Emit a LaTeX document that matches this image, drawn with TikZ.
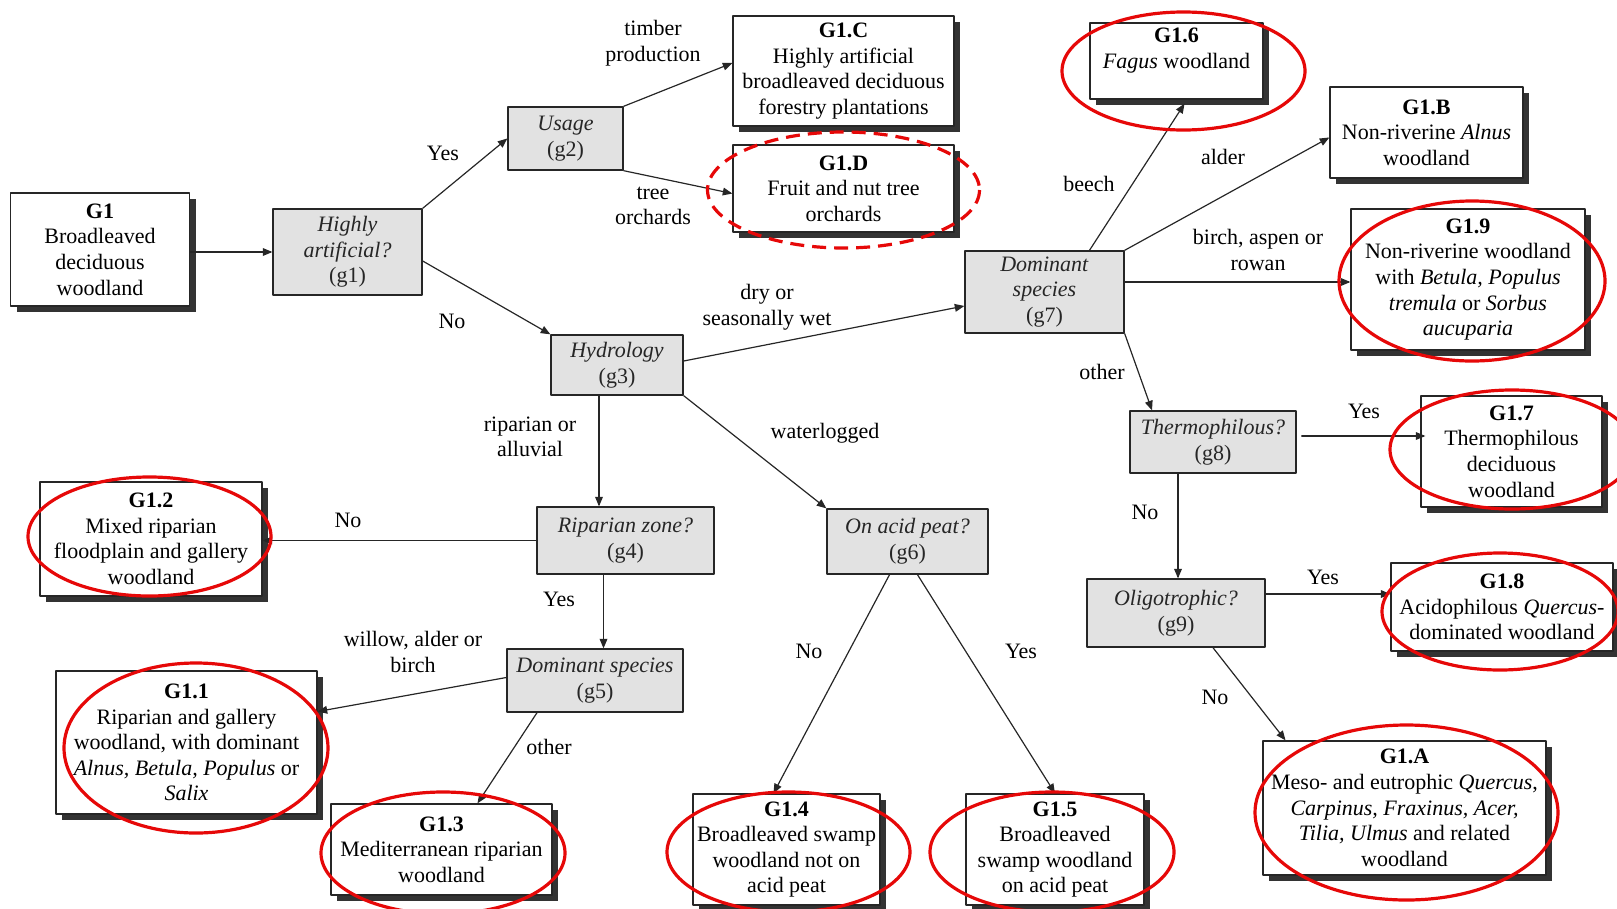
\documentclass[tikz,border=0pt]{standalone}
\usepackage{fontspec}
\setmainfont{Liberation Serif}
\usetikzlibrary{arrows,shadows}
\definecolor{ringred}{RGB}{230,8,8}
\definecolor{qgray}{RGB}{226,226,226}

\begin{document}
\begin{tikzpicture}[line cap=round,line join=round,>=triangle 45,x=1pt,y=-1pt,
  font=\fontsize{22}{25.6}\selectfont,
  leaf/.style={draw=black!85,line width=1.4pt,fill=white,align=center,inner sep=1pt,
    drop shadow={shadow xshift=6pt,shadow yshift=-6pt,fill=black!80,opacity=1}},
  quest/.style={draw=black!85,line width=1.4pt,fill=qgray,align=center,inner sep=1pt,text=black!85},
  lbl/.style={align=center,inner sep=0pt},
  link/.style={->,line width=1.2pt,black!85},
  ring/.style={draw=ringred,line width=3.2pt}]
\useasboundingbox (0,0) rectangle (1617,908);
\clip (0,0) rectangle (1617,908);

\node[leaf,minimum width=179,minimum height=113] (G1) at (100,249.5) {\textbf{G1}\\Broadleaved\\deciduous\\woodland};
\node[quest,minimum width=149,minimum height=86] (g1) at (347.5,252) {\textit{Highly}\\\textit{artificial?}\\(g1)};
\node[quest,minimum width=115,minimum height=63] (g2) at (565.5,138.5) {\textit{Usage}\\(g2)};
\node[leaf,minimum width=221,minimum height=110] (G1C) at (843.5,71) {\textbf{G1.C}\\Highly artificial\\broadleaved deciduous\\forestry plantations};
\node[leaf,minimum width=221,minimum height=87] (G1D) at (843.5,188.5) {\textbf{G1.D}\\Fruit and nut tree\\orchards};
\node[quest,minimum width=132,minimum height=60] (g3) at (617,365) {\textit{Hydrology}\\(g3)};
\node[quest,minimum width=159,minimum height=82] (g7) at (1044.5,292) {\textit{Dominant}\\\textit{species}\\(g7)};
\node[leaf,minimum width=173,minimum height=76] (G16) at (1176.5,61) {\textbf{G1.6}\\\textit{Fagus} woodland\\\mbox{}};
\node[leaf,minimum width=193,minimum height=91] (G1B) at (1426.5,132.5) {\textbf{G1.B}\\Non-riverine \textit{Alnus}\\woodland};
\node[leaf,minimum width=234,minimum height=141] (G19) at (1468,279.5) {\textbf{G1.9}\\Non-riverine woodland\\with \textit{Betula, Populus}\\\textit{tremula} or \textit{Sorbus}\\\textit{aucuparia}};
\node[quest,minimum width=177,minimum height=67] (g4) at (625.5,540.5) {\textit{Riparian zone?}\\(g4)};
\node[leaf,minimum width=222,minimum height=114] (G12) at (151,539) {\textbf{G1.2}\\Mixed riparian\\floodplain and gallery\\woodland};
\node[quest,minimum width=176,minimum height=63] (g5) at (595,680.5) {\textit{Dominant species}\\(g5)};
\node[leaf,minimum width=261,minimum height=143] (G11) at (186.5,742.5) {\textbf{G1.1}\\Riparian and gallery\\woodland, with dominant\\\textit{Alnus, Betula, Populus} or\\\textit{Salix}};
\node[leaf,minimum width=221,minimum height=91] (G13) at (441.5,849.5) {\textbf{G1.3}\\Mediterranean riparian\\woodland};
\node[quest,minimum width=161,minimum height=65] (g6) at (907.5,541.5) {\textit{On acid peat?}\\(g6)};
\node[leaf,minimum width=187,minimum height=111] (G14) at (786.5,849.5) {\textbf{G1.4}\\Broadleaved swamp\\woodland not on\\acid peat};
\node[leaf,minimum width=178,minimum height=111] (G15) at (1055,849.5) {\textbf{G1.5}\\Broadleaved\\swamp woodland\\on acid peat};
\node[quest,minimum width=166,minimum height=62] (g8) at (1213,442) {\textit{Thermophilous?}\\(g8)};
\node[leaf,minimum width=181,minimum height=111] (G17) at (1511.5,451.5) {\textbf{G1.7}\\Thermophilous\\deciduous\\woodland};
\node[quest,minimum width=178,minimum height=68] (g9) at (1176,613) {\textit{Oligotrophic?}\\(g9)};
\node[leaf,minimum width=222,minimum height=88] (G18) at (1502,607) {\textbf{G1.8}\\Acidophilous \textit{Quercus}-\\dominated woodland};
\node[leaf,minimum width=283,minimum height=134] (G1A) at (1404.5,808) {\textbf{G1.A}\\Meso- and eutrophic \textit{Quercus},\\\textit{Carpinus, Fraxinus, Acer,}\\\textit{Tilia, Ulmus} and related\\woodland};

\draw[link] (G1.east |- g1.west) -- (g1.west);
\draw[link] (g1.north east) -- (g2.west);
\draw[link] ([yshift=-9pt]g1.east) -- (g3.north west);
\draw[link] (g2.north east) -- ([yshift=8pt]G1C.west);
\draw[link] (g2.south east) -- ([yshift=-5pt]G1D.west);
\draw[link] ([yshift=4pt]g3.east) -- ([yshift=-14pt]g7.west);
\draw[link] ([xshift=-18pt]g3.south) -- ([xshift=-18pt]g3.south |- g4.north);
\draw[link] (g3.south east) -- (g6.north west);
\draw[link] (g4.west) -- (g4.west -| G12.east);
\draw[link] ([xshift=-22pt]g4.south) -- ([xshift=-22pt]g4.south |- g5.north);
\draw[link] ([yshift=3pt]g5.west) -- ([yshift=31pt]G11.east);
\draw[link] ([xshift=-58pt]g5.south) -- ([xshift=36pt]G13.north);
\draw[link] ([xshift=-18pt]g6.south) -- ([xshift=-13pt]G14.north);
\draw[link] ([xshift=10pt]g6.south) -- (G15.north);
\draw[link] ([xshift=45pt]g7.north) -- ([xshift=8pt,yshift=-4pt]G16.south);
\draw[link] (g7.north east) -- ([yshift=-5pt]G1B.west);
\draw[link] ([yshift=10pt]g7.east) -- ([yshift=10pt]g7.east -| G19.west);
\draw[link] (g7.south east) -- ([xshift=-61pt]g8.north);
\draw[link] ([xshift=5pt,yshift=6pt]g8.east) -- ([xshift=5pt,yshift=6pt]g8.east -| G17.west);
\draw[link] ([xshift=-35pt]g8.south) -- ([xshift=-35pt]g8.south |- g9.north);
\draw[link] ([yshift=19pt]g9.east) -- ([yshift=19pt]g9.east -| G18.west);
\draw[link] ([xshift=37pt]g9.south) -- ([xshift=-119pt]G1A.north);

\node[lbl] (yes1) at (443,153) {Yes};
\node[lbl] (no1) at (452,321) {No};
\node[lbl] (timber) at (653,43) {timber\\production};
\node[lbl] (orch) at (653,206) {tree\\orchards};
\node[lbl] (dry) at (767,307) {dry or\\seasonally wet};
\node[lbl] (ripal) at (530,437) {riparian or\\alluvial};
\node[lbl] (waterl) at (825,433) {waterlogged};
\node[lbl] (no4) at (348,520) {No};
\node[lbl] (yes4) at (559,599) {Yes};
\node[lbl] (willow) at (413,652) {willow, alder or\\birch};
\node[lbl] (other5) at (549,747) {other};
\node[lbl] (no6) at (809,651) {No};
\node[lbl] (yes6) at (1021,651) {Yes};
\node[lbl] (beech) at (1089,184) {beech};
\node[lbl] (alder) at (1223,157) {alder};
\node[lbl] (birch) at (1258,250) {birch, aspen or\\rowan};
\node[lbl] (other7) at (1102,372) {other};
\node[lbl] (yes8) at (1364,411) {Yes};
\node[lbl] (no8) at (1145,512) {No};
\node[lbl] (yes9) at (1323,577) {Yes};
\node[lbl] (no9) at (1215,697) {No};

\draw[ring,line cap=butt,dash pattern=on 14pt off 8pt] (843.5,190) ellipse [x radius=136,y radius=58];
\draw[ring] (1183.5,71) ellipse [x radius=121.5,y radius=59];
\draw[ring] (1472,281) ellipse [x radius=133,y radius=80];
\draw[ring] (149.5,536.5) ellipse [x radius=121.5,y radius=59.5];
\draw[ring] (196,748) ellipse [x radius=132,y radius=85];
\draw[ring] (443,853) ellipse [x radius=122,y radius=61];
\draw[ring] (788.5,852) ellipse [x radius=121.5,y radius=60];
\draw[ring] (1052,852) ellipse [x radius=122,y radius=60];
\draw[ring] (1512,449.5) ellipse [x radius=122,y radius=59.5];
\draw[ring] (1500,611.5) ellipse [x radius=118,y radius=58.5];
\draw[ring] (1406.5,812.5) ellipse [x radius=151.5,y radius=87.5];
\end{tikzpicture}
\end{document}
